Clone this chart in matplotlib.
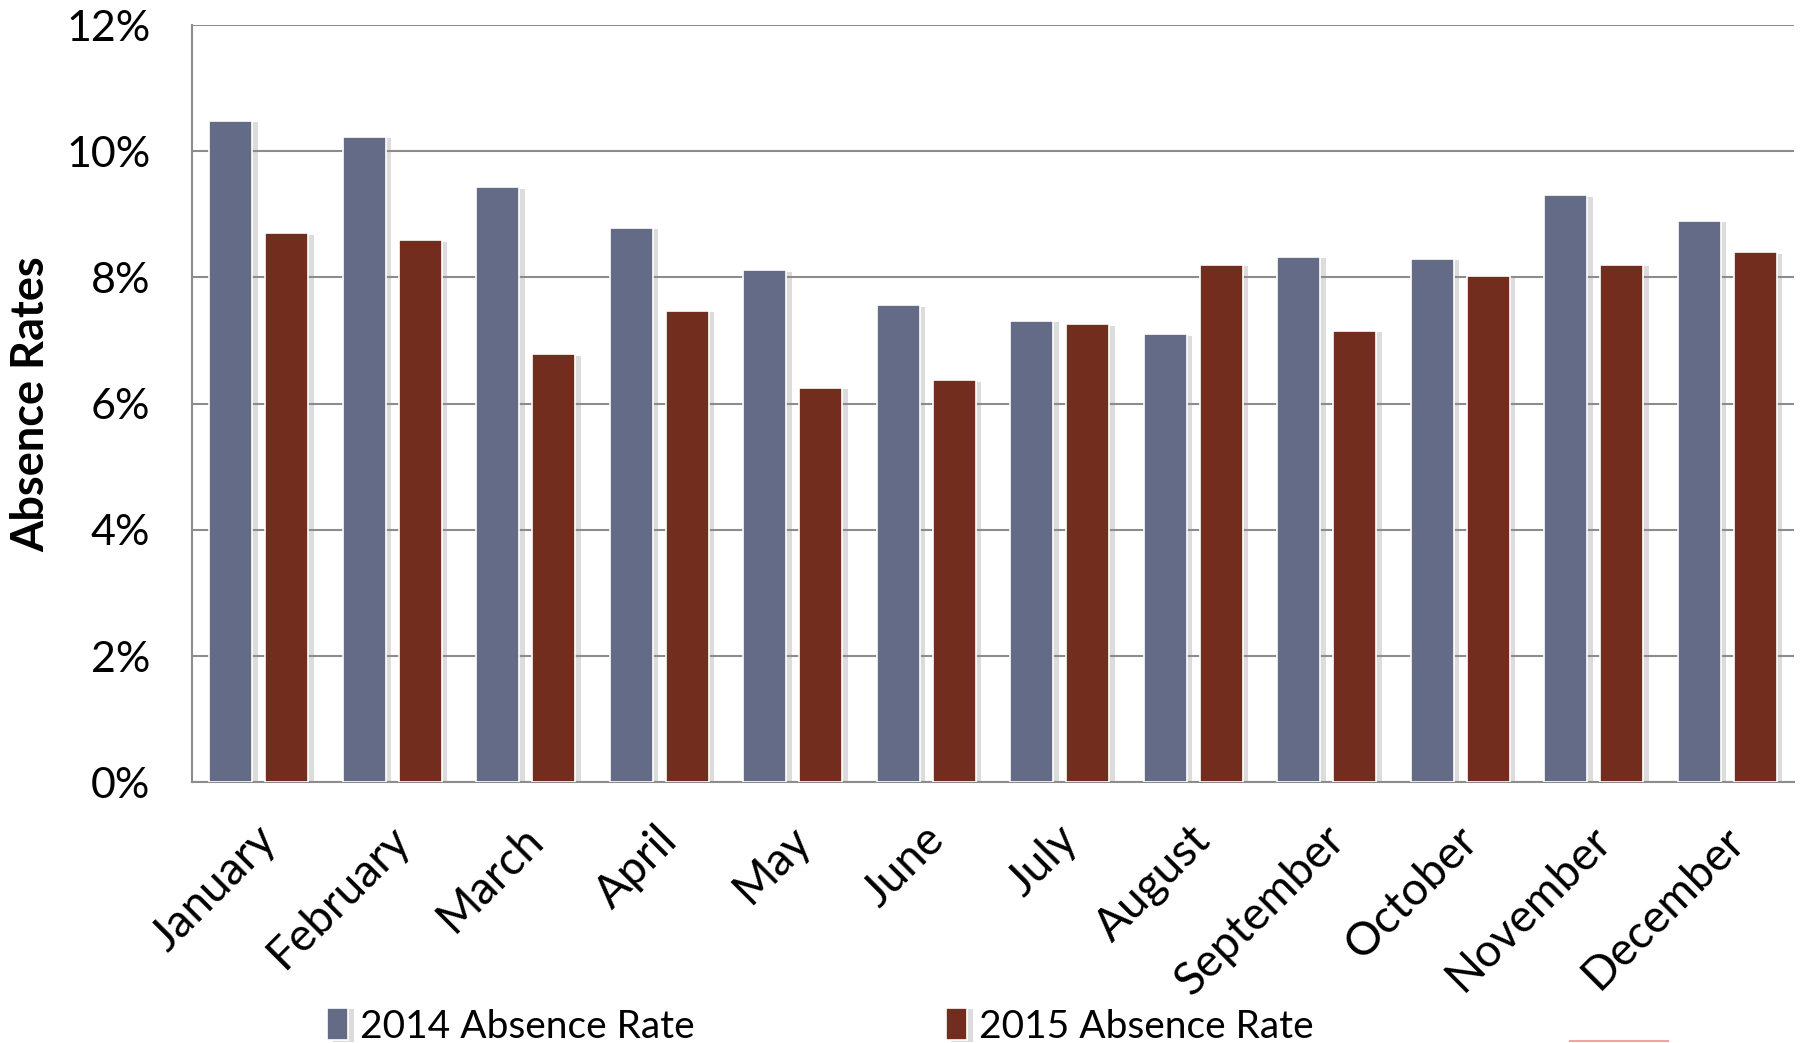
import matplotlib
matplotlib.use("Agg")
import matplotlib.pyplot as plt
import matplotlib.patheffects as pe
from matplotlib.lines import Line2D
import numpy as np

months = ["January", "February", "March", "April", "May", "June", "July",
          "August", "September", "October", "November", "December"]
rate_2014 = [10.48, 10.23, 9.43, 8.79, 8.11, 7.56, 7.31, 7.10, 8.33, 8.30, 9.30, 8.90]
rate_2015 = [8.70, 8.59, 6.78, 7.47, 6.25, 6.37, 7.26, 8.20, 7.15, 8.03, 8.20, 8.40]
yticks = [0, 2, 4, 6, 8, 10, 12]

plt.rcParams['font.family'] = ['Lato', 'DejaVu Sans']

fig = plt.figure(figsize=(18.03, 10.43), dpi=100)
ax = fig.add_axes([0.1065, 0.250, 0.8885, 0.726])

x = np.arange(len(months))
sombra = [pe.SimplePatchShadow(offset=(4, -1), shadow_rgbFace='#8c8c8c', alpha=0.3), pe.Normal()]
b1 = ax.bar(x - 0.21, rate_2014, width=0.32, color='#646B87', edgecolor='white', linewidth=1.2,
            label='2014 Absence Rate', zorder=3)
b2 = ax.bar(x + 0.21, rate_2015, width=0.32, color='#722D1E', edgecolor='white', linewidth=1.2,
            label='2015 Absence Rate', zorder=3)
for barra in list(b1) + list(b2):
    barra.set_path_effects(sombra)

ax.set_xlim(-0.5, 11.5)
ax.set_ylim(0, 12)
ax.set_yticks(yticks)
ax.set_yticklabels([f"{v}%" for v in yticks], fontsize=31)
ax.yaxis.grid(True, color='#8c8c8c', linewidth=1.5, zorder=0)
ax.set_axisbelow(True)
ax.tick_params(axis='y', length=0, pad=30)
ax.tick_params(axis='x', length=0, pad=26)

ax.set_xticks(x - 0.03)
ax.set_xticklabels(months, rotation=45, ha='right', rotation_mode='anchor', fontsize=33)

for lado in ['top', 'right']:
    ax.spines[lado].set_visible(False)
ax.spines['left'].set_color('#8c8c8c')
ax.spines['bottom'].set_color('#8c8c8c')
ax.spines['left'].set_linewidth(1.5)
ax.spines['bottom'].set_linewidth(1.5)

ax.set_ylabel("Absence Rates", fontsize=32.5, fontweight='bold')
ax.yaxis.set_label_coords(-0.087, 0.5)

fig.legend(handles=[b1, b2], loc='lower left', bbox_to_anchor=(0.162, -0.035), ncol=2,
           frameon=False, fontsize=28, handlelength=0.55, handleheight=0.9,
           handletextpad=0.3, columnspacing=6.45)

# linea roja suelta abajo a la derecha
fig.add_artist(Line2D([0.871, 0.925], [0.002, 0.002], transform=fig.transFigure,
                      color='#f4a3a3', linewidth=1.5))

fig.savefig("out.png", dpi=100)
